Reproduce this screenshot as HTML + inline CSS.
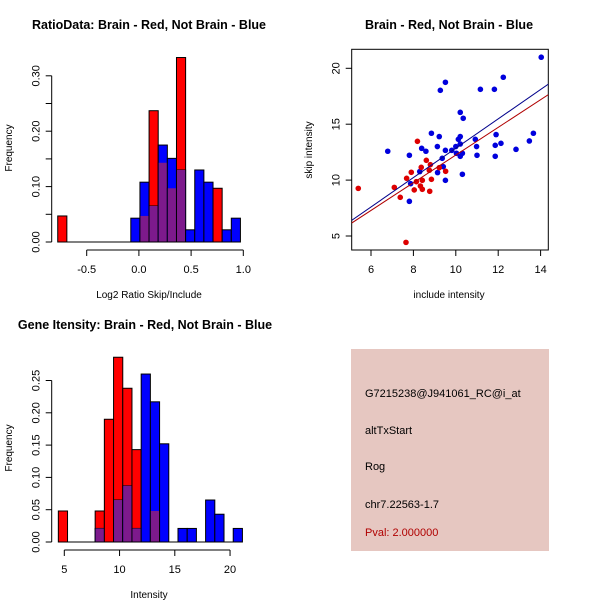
<!DOCTYPE html>
<html><head><meta charset="utf-8"><style>
html,body{margin:0;padding:0;background:#fff}
svg{display:block;font-family:"Liberation Sans",sans-serif}
</style></head><body>
<svg id="svg" width="600" height="600" viewBox="0 0 600 600">
<rect x="351" y="349" width="198" height="202" fill="#e6c7c1"/>
<text x="365" y="397" font-size="11" fill="#000">G7215238@J941061_RC@i_at</text>
<text x="365" y="434" font-size="11" fill="#000">altTxStart</text>
<text x="365" y="470" font-size="11" fill="#000">Rog</text>
<text x="365" y="508" font-size="11" fill="#000">chr7.22563-1.7</text>
<text x="365" y="536" font-size="11" fill="#b00000">Pval: 2.000000</text>
</svg>
<script>
// ---- Ratio histogram data ----
const ratioBreakStart = -0.7775;
const ratioBinWidth = 0.0875;
const ratioRed  = [0.047,0,0,0,0,0,0,0,0,0.047,0.237,0.143,0.097,0.333,0,0,0,0.097,0,0];
const ratioBlue = [0,0,0,0,0,0,0,0,0.043,0.108,0.065,0.175,0.151,0.13,0.022,0.13,0.108,0,0.022,0.043];
const ratioXTicks = [-0.5,0.0,0.5,1.0];
const ratioXLabels = ["-0.5","0.0","0.5","1.0"];
const ratioYTicks = [0,0.05,0.10,0.15,0.20,0.25,0.30];
const ratioYLabels = ["0.00","","0.10","","0.20","","0.30"];
// ---- Intensity histogram data ----
const intBreakStart = 4.46;
const intBinWidth = 0.833;
const intRed  = [0.048,0,0,0,0.048,0.19,0.286,0.238,0.143,0,0.048,0,0,0,0,0,0,0,0,0];
const intBlue = [0,0,0,0,0.021,0,0.065,0.087,0.021,0.26,0.217,0.152,0,0.021,0.021,0,0.065,0.043,0,0.021];
const intXTicks = [5,10,15,20];
const intXLabels = ["5","10","15","20"];
const intYTicks = [0,0.05,0.10,0.15,0.20,0.25];
const intYLabels = ["0.00","0.05","0.10","0.15","0.20","0.25"];
// ---- Scatter data ----
const blueX = [6.79,7.81,7.81,8.39,8.59,8.85,9.22,9.13,9.27,9.51,9.51,9.36,9.41,9.14,9.51,9.81,10.0,10.12,10.21,10.21,10.35,10.21,10.21,10.31,10.31,10.92,10.98,11.0,11.16,11.82,11.9,11.86,11.86,12.13,12.24,12.84,13.47,13.66,14.03,10.03,8.30,7.87];
const blueY = [12.58,12.22,8.10,12.84,12.58,14.19,13.89,13.0,18.03,18.75,12.66,11.95,11.2,10.67,9.98,12.66,13.0,13.65,13.89,16.06,15.53,13.23,12.13,12.4,10.52,13.65,13.0,12.22,18.12,18.12,14.07,13.11,12.13,13.29,19.2,12.75,13.5,14.19,20.99,12.4,10.76,9.68];
const redX = [5.40,7.10,7.38,7.68,7.65,7.90,8.04,8.19,8.14,8.37,8.33,8.42,8.42,8.61,8.80,8.75,8.77,8.85,9.22,9.52];
const redY = [9.26,9.35,8.46,10.16,4.43,10.7,9.12,13.47,9.86,11.14,9.47,9.18,9.98,11.77,11.38,10.88,9.0,10.07,11.11,10.79];
const blueFit = [-0.28,1.313];
const redFit = [-0.14,1.238];
const scXTicks = [6,8,10,12,14];
const scYTicks = [5,10,15,20];

const svg = document.getElementById('svg');
const NS = 'http://www.w3.org/2000/svg';
function mk(tag, attrs, parent){const e=document.createElementNS(NS,tag);for(const k in attrs)e.setAttribute(k,attrs[k]);(parent||svg).appendChild(e);return e;}
function txt(x,y,s,size,extra){const t=mk('text',Object.assign({x:x,y:y,'font-size':size,fill:'#000','text-anchor':'middle'},extra||{}));t.textContent=s;return t;}

function hist(opts){
  const g = mk('g',{});
  
  
  const xs=v=>opts.x0px+(v-opts.x0)*opts.xs, ys=v=>opts.y0px-v*opts.ys;
  const n=opts.red.length;
  const L=xs(opts.start), R=xs(opts.start+n*opts.w);
  mk('line',{x1:L,x2:R,y1:ys(0),y2:ys(0),stroke:'#000','stroke-width':1},g);
  for(let i=0;i<n;i++){
    const a=xs(opts.start+i*opts.w), b=xs(opts.start+(i+1)*opts.w);
    const r=opts.red[i], bl=opts.blue[i];
    if(r>0){const e=mk('rect',{x:a,y:ys(r),width:b-a,height:ys(0)-ys(r),fill:'#ff0000',stroke:'#000','stroke-width':1},g);
      
      }
    if(bl>0){const e=mk('rect',{x:a,y:ys(bl),width:b-a,height:ys(0)-ys(bl),fill:'#0000ff',stroke:'#000','stroke-width':1},g);
      
      }
    const m=Math.min(r,bl);
    if(m>0){const e=mk('rect',{x:a+0.5,y:ys(m),width:b-a-1,height:ys(0)-ys(m)-0.5,fill:'#7d1a8c',stroke:'none'},g);
      
      }
  }
  // y axis
  const ya=mk('g',{},g);
  
  
  const yt=opts.yTicks;
  mk('line',{x1:opts.axX,x2:opts.axX,y1:ys(yt[0]),y2:ys(yt[yt.length-1]),stroke:'#000'},ya);
  yt.forEach((v,i)=>{mk('line',{x1:opts.axX-6,x2:opts.axX,y1:ys(v),y2:ys(v),stroke:'#000'},ya);
    if(opts.yLabels[i]){const y=ys(v);txt(opts.axX-12,y,opts.yLabels[i],11,{transform:`rotate(-90 ${opts.axX-12} ${y})`,'dominant-baseline':'auto'}).setAttribute('dy','0');}});
  // x axis
  const xa=mk('g',{},g);
  
  
  const xt=opts.xTicks;
  mk('line',{x1:xs(xt[0]),x2:xs(xt[xt.length-1]),y1:opts.axY,y2:opts.axY,stroke:'#000'},xa);
  xt.forEach((v,i)=>{mk('line',{x1:xs(v),x2:xs(v),y1:opts.axY,y2:opts.axY+6,stroke:'#000'},xa);txt(xs(v),opts.axY+23,opts.xLabels[i],11);});
}

hist({name:'ratio-histogram',red:ratioRed,blue:ratioBlue,start:ratioBreakStart,w:ratioBinWidth,
  x0:0,x0px:138.9,xs:104.4,y0px:242,ys:554,axX:51.7,axY:250,
  xTicks:ratioXTicks,xLabels:ratioXLabels,yTicks:ratioYTicks,yLabels:ratioYLabels});
hist({name:'intensity-histogram',red:intRed,blue:intBlue,start:intBreakStart,w:intBinWidth,
  x0:5,x0px:64.3,xs:11.05,y0px:542,ys:646,axX:51.7,axY:550,
  xTicks:intXTicks,xLabels:intXLabels,yTicks:intYTicks,yLabels:intYLabels});

// titles and axis titles
let t;
t=txt(149,29,'RatioData: Brain - Red, Not Brain - Blue',12.5,{'font-weight':'bold'});


t=txt(449,29,'Brain - Red, Not Brain - Blue',12.5,{'font-weight':'bold'});


t=txt(145,329,'Gene Itensity: Brain - Red, Not Brain - Blue',12.5,{'font-weight':'bold'});


t=txt(149,298,'Log2 Ratio Skip/Include',10);


t=txt(12,148,'Frequency',10,{transform:'rotate(-90 12 148)'});


t=txt(149,598,'Intensity',10);


t=txt(12,448,'Frequency',10,{transform:'rotate(-90 12 448)'});


t=txt(449,298,'include intensity',10);


t=txt(312,150,'skip intensity',10,{transform:'rotate(-90 312 150)'});



// scatter
const PL=351.7,PR=548.3,PT=49.3,PB=250;
const sx=v=>371+(v-6)*21.2, sy=v=>236-(v-5)*11.18;
const sg=mk('g',{});


const box=mk('rect',{x:PL,y:PT,width:PR-PL,height:PB-PT,fill:'none',stroke:'#000'},sg);


const clip=mk('clipPath',{id:'pc'},sg);mk('rect',{x:PL,y:PT,width:PR-PL,height:PB-PT},clip);
blueX.forEach((x,i)=>{const c=mk('circle',{cx:sx(x),cy:sy(blueY[i]),r:2.8,fill:'#0000dd'},sg);
  
  });
redX.forEach((x,i)=>{const c=mk('circle',{cx:sx(x),cy:sy(redY[i]),r:2.8,fill:'#dd0000'},sg);
  
  });
const xL=6+(PL-371)/21.2, xR=6+(PR-371)/21.2;
[[blueFit,'#00008b','blue-fit-line'],[redFit,'#b00000','red-fit-line']].forEach(([f,c,n])=>{
  const l=mk('line',{x1:sx(xL),y1:sy(f[0]+f[1]*xL),x2:sx(xR),y2:sy(f[0]+f[1]*xR),stroke:c,'stroke-width':1,'clip-path':'url(#pc)'},sg);
  
  });
scXTicks.forEach(v=>{mk('line',{x1:sx(v),x2:sx(v),y1:PB,y2:PB+6,stroke:'#000'},sg);txt(sx(v),PB+23,String(v),11);});
scYTicks.forEach(v=>{mk('line',{x1:PL-6,x2:PL,y1:sy(v),y2:sy(v),stroke:'#000'},sg);txt(PL-12,sy(v),String(v),11,{transform:`rotate(-90 ${PL-12} ${sy(v)})`});});
</script>
</body></html>
